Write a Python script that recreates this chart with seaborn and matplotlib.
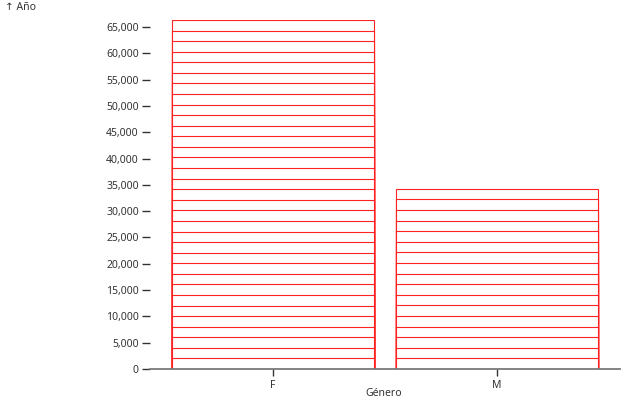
import numpy as np
import pandas as pd
import seaborn as sns
import matplotlib.pyplot as plt
from matplotlib.ticker import FuncFormatter

sns.set_style("white")
plt.rcParams['font.family'] = ['Noto Sans', 'DejaVu Sans']

# one row per person: gender and year, stacked as segments
generos = ['F', 'M']
anos_f = [2008, 2010, 2012, 2009, 2011, 2010, 2007, 2013, 2010, 2009, 2011,
          2012, 2008, 2010, 2011, 2009, 2010, 2012, 2010, 2008, 2011, 2009,
          2010, 2013, 2010, 2009, 2011, 2010, 2012, 2008, 2010, 2011, 2009]
anos_m = [2014, 2016, 2013, 2015, 2017, 2014, 2016, 2015, 2018, 2013,
          2016, 2015, 2014, 2017, 2016, 2015, 2018]

cum_f = np.cumsum(anos_f)
cum_m = np.cumsum(anos_m)
n = max(len(anos_f), len(anos_m))

fig = plt.figure(figsize=(6.4, 4.0), dpi=100)
ax = fig.add_axes([150 / 640, 31 / 400, 470 / 640, 349 / 400])

# draw from the tallest cumulative layer down so each segment shows its edge
for k in range(n, 0, -1):
    rows = []
    if k <= len(cum_f):
        rows.append(('F', cum_f[k - 1]))
    if k <= len(cum_m):
        rows.append(('M', cum_m[k - 1]))
    df = pd.DataFrame(rows, columns=['Género', 'Año'])
    sns.barplot(data=df, x='Género', y='Año', order=generos, width=0.9,
                color='white', edgecolor='#ff2020', linewidth=0.8, ax=ax,
                errorbar=None)

ax.set_xlim(-0.55, 1.55)
ax.set_ylim(0, cum_f[-1])
for s in ['top', 'right', 'left']:
    ax.spines[s].set_visible(False)
ax.spines['bottom'].set_color('#7a7a7a')
ax.spines['bottom'].set_linewidth(1.3)
ax.spines['bottom'].set_zorder(5)

ax.set_yticks(np.arange(0, 65001, 5000))
ax.yaxis.set_major_formatter(FuncFormatter(lambda v, p: f"{int(v):,}"))
ax.tick_params(axis='y', left=True, length=6, width=1, color='#333333',
               labelsize=7.5, labelcolor='#333333', pad=2)
ax.tick_params(axis='x', bottom=True, length=5, width=1, color='#333333',
               labelsize=7.5, labelcolor='#333333', pad=3)
ax.set_xlabel('Género', fontsize=7.5, color='#333333', labelpad=2)
ax.set_ylabel('')
ax.xaxis.set_label_coords((384 - 150) / 470, -0.055)
fig.text(5 / 640, 1 - 7 / 400, '↑ Año', fontsize=7.5, color='#333333',
         va='center', ha='left')

fig.savefig('out.png', dpi=100)
